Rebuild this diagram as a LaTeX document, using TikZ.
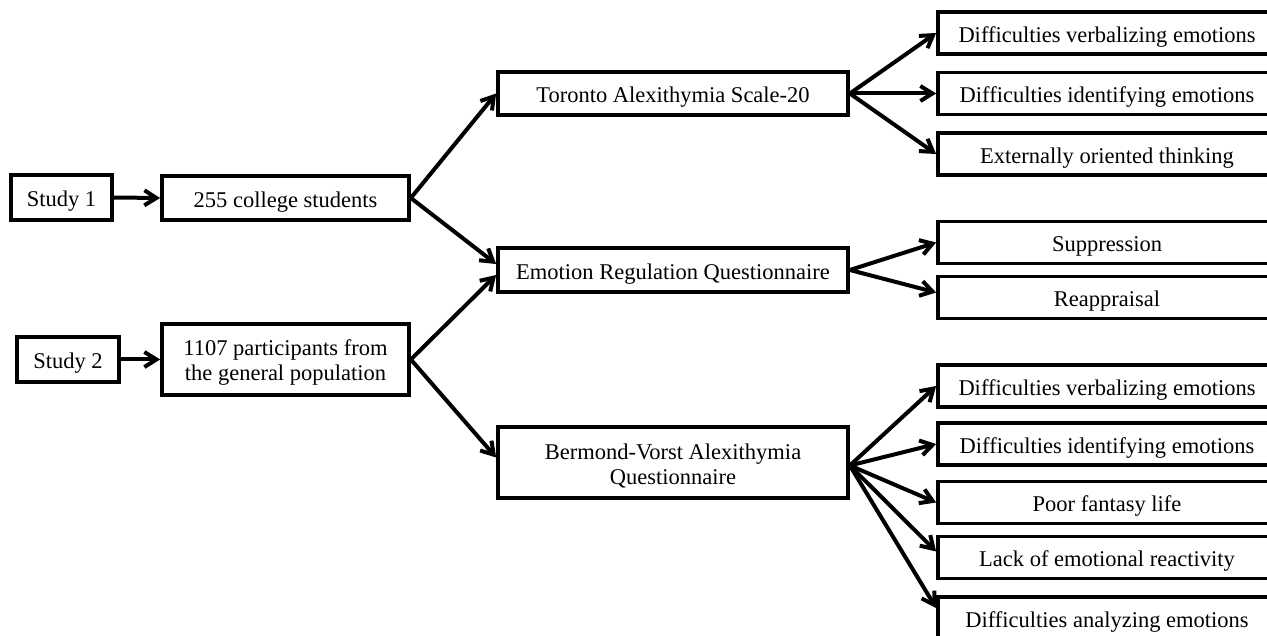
\documentclass[tikz,border=0pt]{standalone}
\usepackage{fontspec}
\setmainfont{Liberation Serif}
\usetikzlibrary{arrows.meta}
\begin{document}
\begin{tikzpicture}[x=1pt,y=-1pt,
  box/.style={draw=black,line width=3.7pt,fill=white,rectangle,inner sep=0pt,
    align=center,font=\fontsize{22.5}{25.5}\selectfont},
  one/.style={text height=20.5pt,text depth=2pt},
  conn/.style={line width=4pt,-{Straight Barb[length=12pt,width=15pt,line width=4pt]}}]
\useasboundingbox (0,0) rectangle (1267,636);
% left column
\node[box,one,minimum width=101pt,minimum height=45pt] (s1) at (61.5,197.5) {Study 1};
\node[box,one,minimum width=102pt,minimum height=45pt] (s2) at (68,359.5) {Study 2};
\node[box,one,minimum width=247pt,minimum height=44pt] (p1) at (285.5,198) {255 college students};
\node[box,minimum width=247pt,minimum height=71pt] (p2) at (285.5,359.5) {\rule{0pt}{22pt}1107 participants from\\the general population};
% middle column
\node[box,one,minimum width=350pt,minimum height=43pt] (tas) at (673,93.5) {Toronto Alexithymia Scale-20};
\node[box,one,minimum width=350pt,minimum height=44pt] (erq) at (673,270) {Emotion Regulation Questionnaire};
\node[box,minimum width=350pt,minimum height=71pt] (bv) at (673,462.5) {\rule{0pt}{23pt}Bermond-Vorst Alexithymia\\Questionnaire};
% right column
\tikzset{rbox/.style={box,one,minimum width=338pt,minimum height=42pt}}
\node[rbox] (t1) at (1107,33) {Difficulties verbalizing emotions};
\node[rbox] (t2) at (1107,93.5) {Difficulties identifying emotions};
\node[rbox] (t3) at (1107,154) {Externally oriented thinking};
\node[rbox] (e1) at (1107,242.5) {Suppression};
\node[rbox] (e2) at (1107,297.5) {Reappraisal};
\node[rbox] (b1) at (1107,386) {Difficulties verbalizing emotions};
\node[rbox] (b2) at (1107,444) {Difficulties identifying emotions};
\node[rbox] (b3) at (1107,502.5) {Poor fantasy life};
\node[rbox] (b4) at (1107,557.5) {Lack of emotional reactivity};
\node[rbox] (b5) at (1107,618) {Difficulties analyzing emotions};
% connectors
\draw[conn] (s1.east) -- (p1.west);
\draw[conn] (s2.east) -- (p2.west);
\draw[conn] (p1.east) -- (tas.west);
\draw[conn] (p1.east) -- ([yshift=6pt]erq.west);
\draw[conn] (p2.east) -- ([yshift=-5pt]erq.west);
\draw[conn] (p2.east) -- ([yshift=5pt]bv.west);
\draw[conn] (tas.east) -- (t1.west);
\draw[conn] (tas.east) -- (t2.west);
\draw[conn] (tas.east) -- (t3.west);
\draw[conn] (erq.east) -- (e1.west);
\draw[conn] (erq.east) -- ([yshift=5pt]e2.west);
\coordinate (bo) at ([yshift=-3pt]bv.east);
\draw[conn] (bo) -- (b1.west);
\draw[conn] (bo) -- (b2.west);
\draw[conn] (bo) -- (b3.west);
\draw[conn] (bo) -- ([yshift=6pt]b4.west);
\draw[conn] (bo) -- ([yshift=10pt]b5.west);
\end{tikzpicture}
\end{document}
